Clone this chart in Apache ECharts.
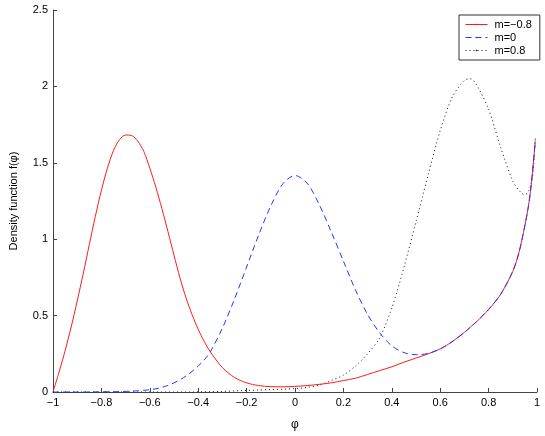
<!DOCTYPE html>
<html>
<head>
<meta charset="utf-8">
<script src="https://cdn.jsdelivr.net/npm/echarts@6/dist/echarts.min.js"></script>
<style>
    html, body { margin: 0; padding: 0; background: #fff; }
    #myChart { width: 545px; height: 436px; }
</style>
</head>
<body>
<div id="myChart"></div>
<script>
    // phi grid shared by all three curves
    var phi = [-1, -0.975, -0.95, -0.925, -0.9, -0.875, -0.85, -0.825, -0.8, -0.775,
        -0.75, -0.725, -0.7, -0.675, -0.65, -0.625, -0.6, -0.575, -0.55, -0.525,
        -0.5, -0.475, -0.45, -0.425, -0.4, -0.375, -0.35, -0.3, -0.25, -0.2,
        -0.15, -0.1, -0.05, 0, 0.05, 0.1, 0.15, 0.2, 0.25, 0.3,
        0.35, 0.4, 0.45, 0.5, 0.55, 0.6, 0.65, 0.7, 0.725, 0.75,
        0.8, 0.85, 0.9, 0.925, 0.95, 0.965, 0.975, 0.985, 0.993];

    // m = -0.8
    var mNeg = [0, 0.13, 0.27, 0.425, 0.595, 0.775, 0.965, 1.15, 1.32, 1.465,
        1.58, 1.652, 1.682, 1.679, 1.642, 1.575, 1.465, 1.34, 1.2, 1.05,
        0.895, 0.745, 0.615, 0.505, 0.41, 0.33, 0.263, 0.16, 0.095, 0.06,
        0.042, 0.035, 0.034, 0.037, 0.042, 0.05, 0.06, 0.075, 0.09, 0.115,
        0.14, 0.165, 0.195, 0.222, 0.25, 0.282, 0.33, 0.39, 0.425, 0.46,
        0.54, 0.64, 0.79, 0.91, 1.09, 1.22, 1.34, 1.5, 1.645];

    // m = 0
    var mZero = [0, 0, 0, 0, 0, 0, 0, 0.001, 0.001, 0.002,
        0.002, 0.003, 0.004, 0.006, 0.008, 0.011, 0.015, 0.021, 0.03, 0.043,
        0.06, 0.08, 0.105, 0.135, 0.17, 0.21, 0.263, 0.418, 0.608, 0.818,
        1.028, 1.218, 1.363, 1.417, 1.367, 1.227, 1.047, 0.857, 0.667, 0.507,
        0.387, 0.302, 0.258, 0.244, 0.252, 0.282, 0.33, 0.39, 0.425, 0.46,
        0.54, 0.64, 0.79, 0.91, 1.09, 1.22, 1.34, 1.5, 1.645];

    // m = 0.8
    var mPos = [0, 0, 0, 0, 0, 0, 0, 0, 0, 0,
        0, 0, 0, 0, 0, 0, 0, 0, 0, 0,
        0, 0, 0, 0, 0.001, 0.001, 0.002, 0.004, 0.007, 0.01,
        0.013, 0.016, 0.018, 0.022, 0.03, 0.045, 0.075, 0.11, 0.17, 0.25,
        0.355, 0.55, 0.815, 1.115, 1.42, 1.71, 1.93, 2.04, 2.05, 2.01,
        1.85, 1.6, 1.38, 1.32, 1.29, 1.315, 1.36, 1.46, 1.67];

    var names = ['m=\u22120.8', 'm=0', 'm=0.8'];

    function pairs(ys) {
        return phi.map(function (x, i) { return [x, ys[i]]; });
    }
    function fmt(v) {
        return String(+v.toFixed(1)).replace('-', '\u2212');
    }

    var axisCol = '#444';
    var font = 'Liberation Sans';
    var red = '#ff1a1a', blue = '#2236ff', black = '#111';
    var colors = [red, blue, black];
    var dashes = ['solid', [6, 4], [1, 3]];

    var option = {
        backgroundColor: '#fff',
        animation: false,
        textStyle: { fontFamily: font },
        grid: { left: 49, right: 8, top: 10, bottom: 40 },
        legend: {
            orient: 'vertical',
            left: 459,
            top: 15,
            backgroundColor: '#fff',
            borderColor: '#333',
            borderWidth: 1,
            borderRadius: 0,
            padding: [4, 8, 4, 6],
            itemGap: 2,
            itemWidth: 22,
            itemHeight: 2,
            textStyle: { fontSize: 11, color: '#000', fontFamily: font, padding: [0, 0, 0, 2] },
            data: names.map(function (n, i) {
                return {
                    name: n,
                    lineStyle: { color: colors[i], width: 1, type: dashes[i] }
                };
            })
        },
        xAxis: {
            type: 'value',
            min: -1,
            max: 1,
            interval: 0.2,
            name: '\u03c6',
            nameLocation: 'middle',
            nameGap: 27,
            nameTextStyle: { fontSize: 12, color: '#000' },
            axisLine: { onZero: false, lineStyle: { color: axisCol } },
            axisTick: { inside: true, length: 4, lineStyle: { color: axisCol } },
            axisLabel: { fontSize: 11, color: '#000', margin: 5, formatter: fmt },
            splitLine: { show: false }
        },
        yAxis: {
            type: 'value',
            min: 0,
            max: 2.5,
            interval: 0.5,
            name: 'Density function f(\u03c6)',
            nameLocation: 'middle',
            nameGap: 34,
            nameTextStyle: { fontSize: 11, color: '#000' },
            axisLine: { onZero: false, lineStyle: { color: axisCol } },
            axisTick: { inside: true, length: 4, lineStyle: { color: axisCol } },
            axisLabel: { fontSize: 11, color: '#000', margin: 5, formatter: fmt },
            splitLine: { show: false }
        },
        series: [mNeg, mZero, mPos].map(function (ys, i) {
            return {
                name: names[i],
                type: 'line',
                symbol: 'none',
                smooth: 0.3,
                lineStyle: { color: colors[i], width: 1, type: dashes[i] },
                itemStyle: { color: colors[i] },
                data: pairs(ys),
                z: [3, 4, 2][i]
            };
        })
    };

    var myChart = echarts.init(document.getElementById('myChart'));
    myChart.setOption(option);
</script>
</body>
</html>
